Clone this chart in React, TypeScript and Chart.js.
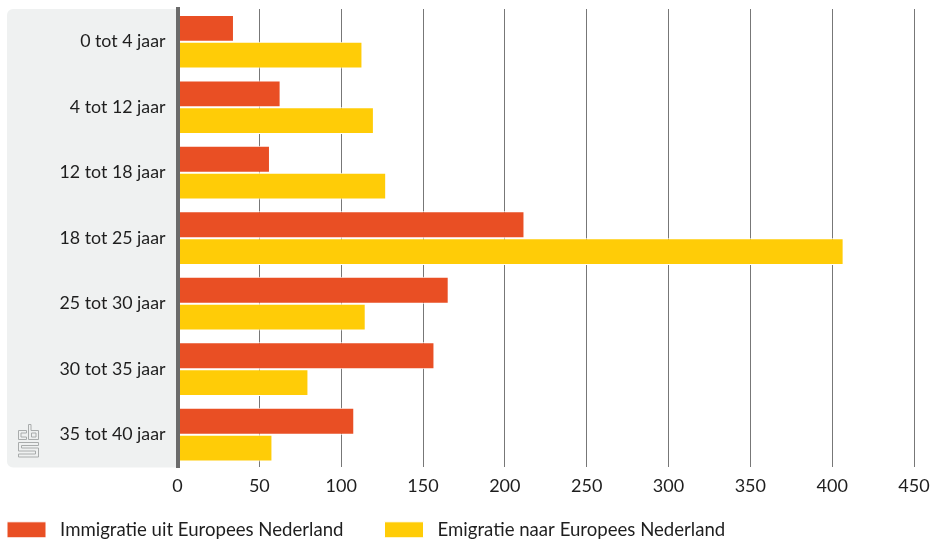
import React, { useEffect, useRef } from "react";
import { Chart, registerables } from "chart.js";
Chart.register(...registerables);

const categories = ["0 tot 4 jaar","4 tot 12 jaar","12 tot 18 jaar","18 tot 25 jaar","25 tot 30 jaar","30 tot 35 jaar","35 tot 40 jaar"];
const immigratie = [34.5, 63, 56.5, 212, 165.7, 157, 108];
const emigratie = [113, 120, 127.5, 407, 115, 80, 58];
const FONT = "Lato";
const logoShapes = [
  [[26.5,430.5],[18.5,430.5],[18.5,439.5],[26.5,439.5],[26.5,437],[21,437],[21,433],[26.5,433]],
  [[28.5,424.5],[28.5,439.5],[38.5,439.5],[38.5,430.5],[31,430.5],[31,424.5]],
  [[31.5,433],[36,433],[36,437],[31.5,437]],
  [[18.5,442.5],[38.5,442.5],[38.5,445.5],[21.5,445.5],[21.5,448],[38.5,448],[38.5,457],[18.5,457],[18.5,454],[35.5,454],[35.5,451],[18.5,451]],
];

const panel = {
  id: "panel",
  afterLayout(c: any) {
    const pad = c.legend.options.labels.padding;
    c.legend.left = 7 - pad;
    c.legend.top = 520.5 - pad;
  },
  beforeDraw(c: any) {
    const { ctx, chartArea: a } = c;
    ctx.save();
    ctx.fillStyle = "#eff1f1";
    ctx.beginPath();
    ctx.roundRect(7, a.top, a.left - 7, a.bottom - a.top, [6, 0, 0, 6]);
    ctx.fill();
    ctx.strokeStyle = "#a9acac";
    ctx.lineWidth = 1;
    for (const shape of logoShapes) {
      ctx.beginPath();
      shape.forEach(([x, y], i) => (i ? ctx.lineTo(x, y) : ctx.moveTo(x, y)));
      ctx.closePath();
      ctx.stroke();
    }
    ctx.restore();
  },
};

export default function App() {
  const ref = useRef<HTMLCanvasElement>(null);
  useEffect(() => {
    document.body.style.margin = "0";
    const chart = new Chart(ref.current!, {
      type: "bar",
      data: {
        labels: categories,
        datasets: [
          { label: "\u00A0Immigratie uit Europees Nederland", data: immigratie, backgroundColor: "#e94f24", borderColor: "#ffffff", borderWidth: 1 },
          { label: "\u00A0Emigratie naar Europees Nederland", data: emigratie, backgroundColor: "#ffcc07", borderColor: "#ffffff", borderWidth: 1 },
        ],
      },
      options: {
        indexAxis: "y",
        responsive: false,
        animation: false,
        layout: { padding: { left: 7, right: 18, top: 9, bottom: -27 } },
        datasets: { bar: { categoryPercentage: 0.82, barPercentage: 1 } },
        scales: {
          x: {
            min: 0, max: 450,
            ticks: { stepSize: 50, color: "#1e1e1e", font: { family: FONT, size: 18 }, padding: 8, maxRotation: 0 },
            grid: { color: "#777777", lineWidth: 1, drawTicks: false },
            border: { display: false },
            afterFit(s: any) { s.height = 30; s.paddingLeft = 0; s.paddingRight = 0; },
          },
          y: {
            ticks: { color: "#1e1e1e", font: { family: FONT, size: 17.8 }, padding: 12 },
            grid: { display: false, drawTicks: false },
            border: { display: true, color: "#6b6b6b", width: 4, z: 2 },
            afterFit(s: any) { s.width = 170.5; s.paddingTop = 0; s.paddingBottom = 0; },
          },
        },
        plugins: {
          tooltip: { enabled: false },
          legend: {
            position: "bottom", align: "start",
            labels: { boxWidth: 39, boxHeight: 16, padding: 41, color: "#1e1e1e", font: { family: FONT, size: 18.6 } },
          },
        },
      },
      plugins: [panel],
    } as any);
    return () => chart.destroy();
  }, []);
  return <canvas ref={ref} width={932} height={540} style={{ display: "block" }} />;
}
